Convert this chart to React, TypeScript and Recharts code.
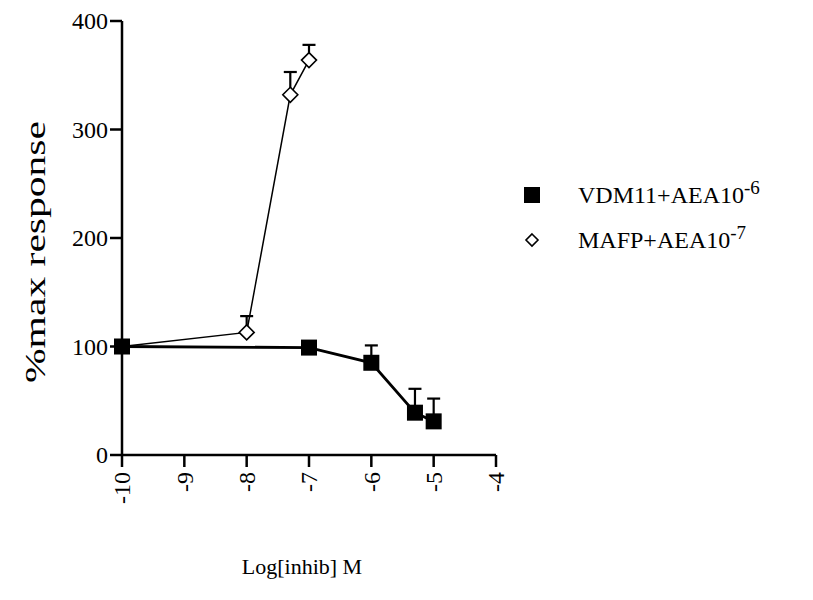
import React from "react";
import { ScatterChart, Scatter, XAxis, YAxis } from "recharts";

// log[inhib] M
const vdmDose = [-10, -7, -6, -5.3, -5];
const vdmResponse = [100, 99, 85, 39, 31];
const vdmSem = [0, 0, 16, 22, 21];

const mafpDose = [-10, -8, -7.3, -7];
const mafpResponse = [100, 113, 332, 364];
const mafpSem = [0, 15, 21, 14];

const xTicks = [-10, -9, -8, -7, -6, -5, -4];
const yTicks = [0, 100, 200, 300, 400];

const font = "Liberation Serif, Times New Roman, serif";

const vdmData = vdmDose.map((x, i) => ({ x, y: vdmResponse[i] }));
const mafpData = mafpDose.map((x, i) => ({ x, y: mafpResponse[i] }));

// one small two-point series per error bar (mean -> mean + sem), drawn under the markers
const errorSegments = (dose: number[], resp: number[], sem: number[]) =>
  dose
    .map((x, i) => ({ sem: sem[i], pts: [{ x, y: resp[i], cap: false }, { x, y: resp[i] + sem[i], cap: true }] }))
    .filter((d) => d.sem > 0)
    .map((d) => d.pts);

const errBars = [...errorSegments(mafpDose, mafpResponse, mafpSem), ...errorSegments(vdmDose, vdmResponse, vdmSem)];

const Square = (props: any) => {
  const { cx, cy } = props;
  return <rect x={cx - 8} y={cy - 8} width={16} height={16} fill="#000" />;
};

const Diamond = (props: any) => {
  const { cx, cy } = props;
  const r = 7.5;
  return (
    <polygon
      points={`${cx},${cy - r} ${cx + r},${cy} ${cx},${cy + r} ${cx - r},${cy}`}
      fill="#fff"
      stroke="#000"
      strokeWidth={1.6}
    />
  );
};

const Cap = (props: any) => {
  const { cx, cy, payload } = props;
  if (!payload || !payload.cap) return <g />;
  return <line x1={cx - 6.5} x2={cx + 6.5} y1={cy} y2={cy} stroke="#000" strokeWidth={2.2} />;
};

const XTick = (props: any) => {
  const { x, y, payload } = props;
  return (
    <g transform={`translate(${x},${y})`}>
      <text
        transform="rotate(-90)"
        x={-3}
        dy="0.35em"
        textAnchor="end"
        fontFamily={font}
        fontSize={24}
        fill="#000"
      >
        {payload.value}
      </text>
    </g>
  );
};

const YTick = (props: any) => {
  const { x, y, payload } = props;
  return (
    <text x={x} y={y} dy="0.35em" textAnchor="end" fontFamily={font} fontSize={24} fill="#000">
      {payload.value}
    </text>
  );
};

const YLabel = () => (
  <text
    transform="translate(45,252) rotate(-90)"
    textAnchor="middle"
    fontFamily={font}
    fontSize={29}
    fill="#000"
    textLength={262}
    lengthAdjust="spacingAndGlyphs"
  >
    %max response
  </text>
);

const XLabel = () => (
  <text x={302} y={574} textAnchor="middle" fontFamily={font} fontSize={22} fill="#000">
    Log[inhib] M
  </text>
);

const rowStyle: React.CSSProperties = { display: "flex", alignItems: "center", height: 45 };

const LegendBox = () => (
  <div
    style={{
      position: "absolute",
      left: 522,
      top: 172,
      fontFamily: font,
      fontSize: 24,
      color: "#000",
      lineHeight: "26px",
    }}
  >
    <div style={rowStyle}>
      <svg width={56} height={20}>
        <rect x={2} y={2} width={16} height={16} fill="#000" />
      </svg>
      <span>
        VDM11+AEA10<sup style={{ fontSize: 19, lineHeight: 0 }}>-6</sup>
      </span>
    </div>
    <div style={rowStyle}>
      <svg width={56} height={20}>
        <polygon points="10,4 16,10 10,16 4,10" fill="#fff" stroke="#000" strokeWidth={1.6} />
      </svg>
      <span>
        MAFP+AEA10<sup style={{ fontSize: 19, lineHeight: 0 }}>-7</sup>
      </span>
    </div>
  </div>
);

export default function App() {
  return (
    <div style={{ position: "absolute", left: 0, top: 0, width: 813, height: 600, background: "#fff" }}>
      <ScatterChart width={813} height={600} margin={{ top: 21, right: 317, bottom: 85, left: 42 }}>
        <XAxis
          type="number"
          dataKey="x"
          domain={[-10, -4]}
          ticks={xTicks}
          interval={0}
          height={60}
          tick={<XTick />}
          tickSize={12}
          axisLine={{ stroke: "#000", strokeWidth: 2.5 }}
          tickLine={{ stroke: "#000", strokeWidth: 2.5 }}
          label={<XLabel />}
        />
        <YAxis
          type="number"
          dataKey="y"
          domain={[0, 400]}
          ticks={yTicks}
          interval={0}
          width={80}
          tick={<YTick />}
          tickSize={12}
          axisLine={{ stroke: "#000", strokeWidth: 2.5 }}
          tickLine={{ stroke: "#000", strokeWidth: 2.5 }}
          label={<YLabel />}
        />
        {errBars.map((seg, i) => (
          <Scatter
            key={`err-${i}`}
            data={seg}
            shape={<Cap />}
            line={{ stroke: "#000", strokeWidth: 2.2 }}
            lineType="joint"
            isAnimationActive={false}
          />
        ))}
        <Scatter
          data={mafpData}
          shape={<Diamond />}
          line={{ stroke: "#000", strokeWidth: 1.5 }}
          lineType="joint"
          isAnimationActive={false}
        />
        <Scatter
          data={vdmData}
          shape={<Square />}
          line={{ stroke: "#000", strokeWidth: 2.8 }}
          lineType="joint"
          isAnimationActive={false}
        />
      </ScatterChart>
      <LegendBox />
    </div>
  );
}
